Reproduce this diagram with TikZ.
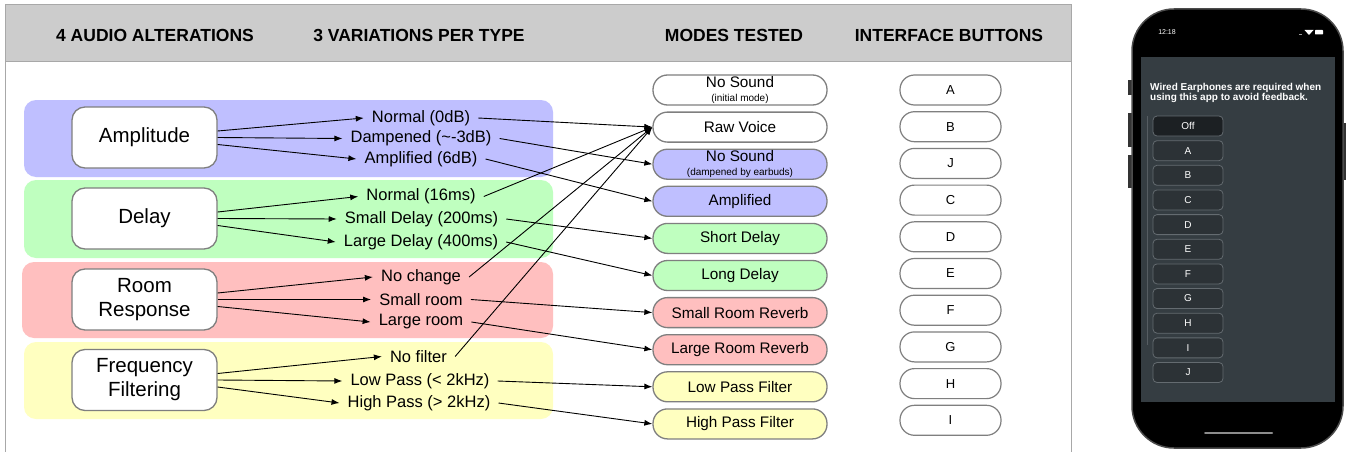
\documentclass[tikz,border=0pt]{standalone}
\usepackage{fontspec}
\setmainfont{Liberation Sans}
\usetikzlibrary{arrows.meta}
\definecolor{hdr}{HTML}{CCCCCC}
\definecolor{frm}{HTML}{A8A8A8}
\definecolor{bluef}{HTML}{BFBFFF}
\definecolor{greenf}{HTML}{BFFFBF}
\definecolor{redf}{HTML}{FFBFBF}
\definecolor{yellowf}{HTML}{FFFFC0}
\definecolor{bord}{HTML}{7F7F7F}
\definecolor{scr}{HTML}{353D42}
\definecolor{pbfill}{HTML}{2C3236}
\definecolor{pboff}{HTML}{1C2023}
\definecolor{pbdraw}{HTML}{646B70}
\tikzset{
  hdrtxt/.style={font=\fontsize{17.5}{20}\selectfont\bfseries},
  band/.style={rounded corners=12pt},
  catbox/.style={draw=bord, line width=1.3pt, fill=white, rounded corners=13pt,
    minimum width=145pt, minimum height=61pt, inner sep=0pt, align=center,
    font=\fontsize{20.5}{24}\selectfont},
  varlbl/.style={inner xsep=8pt, inner ysep=1pt, font=\fontsize{16.5}{18}\selectfont},
  modebox/.style={draw=bord, line width=1.3pt, rounded corners=14.5pt,
    minimum width=174pt, minimum height=30pt, inner sep=0pt, align=center,
    font=\fontsize{15.3}{16}\selectfont},
  btn/.style={draw=bord, line width=1.2pt, fill=white, rounded corners=14.5pt,
    minimum width=101pt, minimum height=30pt, inner sep=0pt,
    font=\fontsize{13}{14}\selectfont},
  arr/.style={-{Latex[length=8pt,width=6pt]}, line width=0.9pt},
  pbtn/.style={draw=pbdraw, line width=0.8pt, fill=pbfill, rounded corners=4pt,
    minimum width=70pt, minimum height=20pt, inner sep=0pt, text=white,
    font=\fontsize{10}{11}\selectfont},
}
\newcommand{\tinytxt}[1]{{\fontsize{10}{11}\selectfont #1}}
\begin{document}
\begin{tikzpicture}[x=1pt,y=-1pt]
\useasboundingbox (0,0) rectangle (1346,452);
\fill[white] (0,0) rectangle (1346,452);
% frame and header
\fill[hdr] (5,5) rectangle (1071,62);
\draw[frm, line width=1pt] (5,452) -- (5,5) -- (1071,5) -- (1071,452);
\draw[frm, line width=1pt] (5,62) -- (1071,62);
\node[hdrtxt] (h1) at (155,35) {4 AUDIO ALTERATIONS};
\node[hdrtxt] (h2) at (419,35) {3 VARIATIONS PER TYPE};
\node[hdrtxt] (h3) at (734,35) {MODES TESTED};
\node[hdrtxt] (h4) at (949,35) {INTERFACE BUTTONS};
% bands
\fill[bluef, band] (24,100) rectangle (553,177);
\fill[greenf, band] (24,180) rectangle (553,258);
\fill[redf, band] (22,262) rectangle (553,338);
\fill[yellowf, band] (24,342) rectangle (553,419);
% categories
\node[catbox] (amp) at (144.5,137.5) {Amplitude};
\node[catbox] (del) at (144.5,218.5) {Delay};
\node[catbox] (room) at (144.5,299.5) {Room\\Response};
\node[catbox] (freq) at (144.5,380) {Frequency\\Filtering};
% variations
\node[varlbl] (a1) at (421,118) {Normal (0dB)};
\node[varlbl] (a2) at (421,138.5) {Dampened (\textasciitilde-3dB)};
\node[varlbl] (a3) at (421,159) {Amplified (6dB)};
\node[varlbl] (d1) at (421,196.5) {Normal (16ms)};
\node[varlbl] (d2) at (421.5,219) {Small Delay (200ms)};
\node[varlbl] (d3) at (421,242) {Large Delay (400ms)};
\node[varlbl] (r1) at (421,277) {No change};
\node[varlbl] (r2) at (421,299.5) {Small room};
\node[varlbl] (r3) at (421,322) {Large room};
\node[varlbl] (f1) at (418.5,356.5) {No filter};
\node[varlbl] (f2) at (420,381) {Low Pass (< 2kHz)};
\node[varlbl] (f3) at (419,403) {High Pass (> 2kHz)};
% modes
\node[modebox, fill=white] (m1) at (740,90) {No Sound\\[-2pt]\tinytxt{(initial mode)}};
\node[modebox, fill=white] (m2) at (740,127.1) {Raw Voice};
\node[modebox, fill=bluef] (m3) at (740,164.2) {No Sound\\[-2pt]\tinytxt{(dampened by earbuds)}};
\node[modebox, fill=bluef] (m4) at (740,201.3) {Amplified};
\node[modebox, fill=greenf] (m5) at (740,238.4) {Short Delay};
\node[modebox, fill=greenf] (m6) at (740,275.5) {Long Delay};
\node[modebox, fill=redf] (m7) at (740,312.6) {Small Room Reverb};
\node[modebox, fill=redf] (m8) at (740,349.7) {Large Room Reverb};
\node[modebox, fill=yellowf] (m9) at (740,386.8) {Low Pass Filter};
\node[modebox, fill=yellowf] (m10) at (740,423.9) {High Pass Filter};
% buttons
\foreach \t [count=\i from 0] in {A,B,J,C,D,E,F,G,H,I}
  \node[btn] (b\i) at (950.5,90+36.7*\i) {\t};
% arrows category -> variation
\foreach \c/\v in {amp/a, del/d, room/r, freq/f} {
  \draw[arr] ([yshift=6.5pt]\c.east) -- (\v1.west);
  \draw[arr] (\c.east) -- (\v2.west);
  \draw[arr] ([yshift=-7pt]\c.east) -- (\v3.west);
}
% arrows variation -> mode
\draw[arr] (a1.east) -- (m2.west);
\draw[arr] (a2.east) -- (m3.west);
\draw[arr] (a3.east) -- (m4.west);
\draw[arr] (d1.east) -- (m2.west);
\draw[arr] (d2.east) -- (m5.west);
\draw[arr] (d3.east) -- (m6.west);
\draw[arr] (r1.east) -- (m2.west);
\draw[arr] (r2.east) -- (m7.west);
\draw[arr] (r3.east) -- (m8.west);
\draw[arr] (f1.east) -- (m2.west);
\draw[arr] (f2.east) -- (m9.west);
\draw[arr] (f3.east) -- (m10.west);
% phone
\fill[black!80] (1128,80) rectangle (1133,95);
\fill[black!80] (1128,113) rectangle (1133,147);
\fill[black!80] (1128,155) rectangle (1133,188);
\fill[black!80] (1341,123) rectangle (1346,180);
\draw[fill=black, draw=black!70, line width=1.5pt, rounded corners=42pt] (1132,9) rectangle (1343,448);
\fill[scr] (1141,57) rectangle (1335,402);
\node[text=white, font=\fontsize{7}{8}\selectfont] (clock) at (1167,32) {12:18};
\fill[white, rounded corners=0.6pt] (1315,30) rectangle (1323,34.5);
\fill[white] (1309,35) -- (1304.5,30) -- (1313.5,30) -- cycle;
\fill[white!60!black] (1299,34) rectangle (1302,35);
\node[anchor=west, align=left, text=white, inner sep=0pt,
  font=\fontsize{10}{10.5}\selectfont\bfseries] (msg) at (1150,93)
  {Wired Earphones are required when\\using this app to avoid feedback.};
\draw[pbdraw!70!scr, line width=0.6pt] (1147,116) -- (1147,345);
\node[pbtn, fill=pboff] (p0) at (1188,126) {Off};
\foreach \t [count=\i from 1] in {A,B,C,D,E,F,G,H,I,J}
  \node[pbtn] (p\i) at (1188,126+24.65*\i) {\t};
\draw[black!45, line width=2pt, line cap=round] (1205,433) -- (1272,433);
\end{tikzpicture}
\end{document}
